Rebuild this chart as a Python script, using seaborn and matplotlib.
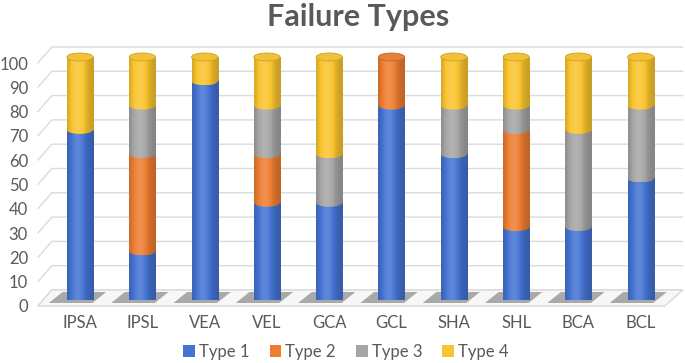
import numpy as np
import pandas as pd
import matplotlib
matplotlib.use("Agg")
import matplotlib.pyplot as plt
import seaborn as sns
from matplotlib.patches import Ellipse, Polygon, Patch
from matplotlib.transforms import ScaledTranslation
from matplotlib.colors import to_rgb

# ---------------- data ----------------
categories = ["IPSA", "IPSL", "VEA", "VEL", "GCA", "GCL", "SHA", "SHL", "BCA", "BCL"]
type1 = [70, 20, 90, 40, 40, 80, 60, 30, 30, 50]
type2 = [0, 40, 0, 20, 0, 20, 0, 40, 0, 0]
type3 = [0, 20, 0, 20, 20, 0, 20, 10, 40, 30]
type4 = [30, 20, 10, 20, 40, 0, 20, 20, 30, 20]
series_names = ["Type 1", "Type 2", "Type 3", "Type 4"]
colors = ["#4473D2", "#ED7D31", "#A5A5A5", "#FAC42E"]
yticks = list(range(0, 101, 10))
title = "Failure Types"

sns.set_theme(style="white")
plt.rcParams['font.family'] = ['Lato', 'DejaVu Sans']
TXT = "#595959"

W, H = 685, 363
fig = plt.figure(figsize=(W / 100, H / 100), dpi=100)
ax_left, ax_right, ax_bottom, ax_top = 48.85, 671.85, 300, 57
ax = fig.add_axes([ax_left / W, 1 - ax_bottom / H, (ax_right - ax_left) / W, (ax_bottom - ax_top) / H])

series = np.array([type1, type2, type3, type4], dtype=float)
cum = np.cumsum(series, axis=0)
n = len(categories)
BW = 0.42

# px -> data helpers (for 3D decoration)
xpx = 1 / ((ax_right - ax_left) / n)
ypx = 100 / (ax_bottom - ax_top)

# back wall gridlines with perspective
x_front = -0.5 - 11 * xpx
x_back = -0.5 + 3 * xpx
x_back_r = n - 0.5 + 11 * xpx
dy_front = -6 * ypx
dy_back = 10 * ypx
for v in yticks:
    ax.plot([x_front, x_back, x_back_r], [v + dy_front, v + dy_back, v + dy_back],
            color="#dadbe0", lw=1.0, zorder=0, clip_on=False)

# floor
floor = Polygon([[x_front, dy_front], [x_back, dy_back], [x_back_r, dy_back],
                 [x_back_r - 18 * xpx, dy_front]], closed=True,
                facecolor="#f7f7f7", edgecolor="#d9d9d9", lw=1, zorder=1, clip_on=False)
ax.add_patch(floor)
for j in range(n):
    sh = Polygon([[j - 0.50, dy_front + 3 * ypx], [j - 0.28, dy_back - 2 * ypx],
                  [j + 0.42, dy_back - 2 * ypx], [j + 0.20, dy_front + 3 * ypx]],
                 closed=True, facecolor="#6a6a6a", edgecolor="none", alpha=0.55,
                 zorder=1.5, clip_on=False)
    ax.add_patch(sh)

# stacked bars (cumulative overlay, largest first)
for i in range(len(series) - 1, -1, -1):
    sns.barplot(x=categories, y=cum[i], order=categories, color=colors[i], width=BW,
                saturation=1, errorbar=None, ax=ax, zorder=3, linewidth=0)

# cylinder shading
t = np.linspace(0, 1, 80)
shade = 0.80 + 0.36 * np.exp(-((t - 0.40) / 0.30) ** 2)

def shaded(c, f):
    rgb = np.array(to_rgb(c))
    out = np.empty((1, len(f), 3))
    for k, ff in enumerate(f):
        if ff <= 1:
            out[0, k] = rgb * ff
        else:
            out[0, k] = rgb + (1 - rgb) * (ff - 1) * 0.9
    return np.clip(out, 0, 1)

cap_h = 8 * ypx
for j in range(n):
    for i in range(len(series)):
        v = series[i, j]
        if v <= 0:
            continue
        b = cum[i, j] - v
        img = shaded(colors[i], shade)
        ax.imshow(img, extent=(j - BW / 2, j + BW / 2, b, cum[i, j]),
                  aspect="auto", zorder=4, interpolation="bilinear")
        # rounded lower edge of this segment (front half of its bottom ellipse)
        el = Ellipse((j, b), BW, cap_h, facecolor="none", edgecolor="none")
        ax.add_patch(el)
        im2 = ax.imshow(img, extent=(j - BW / 2, j + BW / 2, b - cap_h / 2, b + cap_h / 2),
                        aspect="auto", zorder=4 + 0.01 * i, interpolation="bilinear")
        im2.set_clip_path(el)
        im2.set_clip_on(True)
    last = int(np.max(np.nonzero(series[:, j] > 0)))
    cap_rgb = np.array(to_rgb(colors[last]))
    ax.add_patch(Ellipse((j, cum[last, j]), BW, cap_h,
                         facecolor=np.clip(cap_rgb * 0.92 + 0.05, 0, 1),
                         edgecolor=np.clip(cap_rgb * 0.82, 0, 1), lw=0.6, zorder=5, clip_on=False))

ax.set_xlim(-0.5, n - 0.5)
ax.set_ylim(0, 100)
ax.set_yticks(yticks)
ax.set_yticklabels([str(v) for v in yticks])
for s in ax.spines.values():
    s.set_visible(False)
ax.tick_params(axis="y", length=0, pad=15, labelsize=12, labelcolor=TXT)
ax.tick_params(axis="x", length=0, pad=11, labelsize=12, labelcolor=TXT)
off = ScaledTranslation(0, -0.06, fig.dpi_scale_trans)
for lab in ax.get_yticklabels():
    lab.set_transform(lab.get_transform() + off)
ax.set_xlabel("")
ax.set_ylabel("")
ax.grid(False)
ax.set_facecolor("none")

fig.text(358 / W, 1 - 17 / H, title, ha="center", va="center", fontsize=22,
         fontweight="bold", color=TXT)

handles = [Patch(facecolor=c, edgecolor="none") for c in colors]
fig.legend(handles, series_names, loc="center", bbox_to_anchor=(346 / W, 1 - 352 / H),
           ncol=4, frameon=False, fontsize=12, handlelength=0.7, handleheight=0.7,
           handletextpad=0.25, columnspacing=1.2, labelcolor=TXT)

fig.savefig("out.png", dpi=100)
